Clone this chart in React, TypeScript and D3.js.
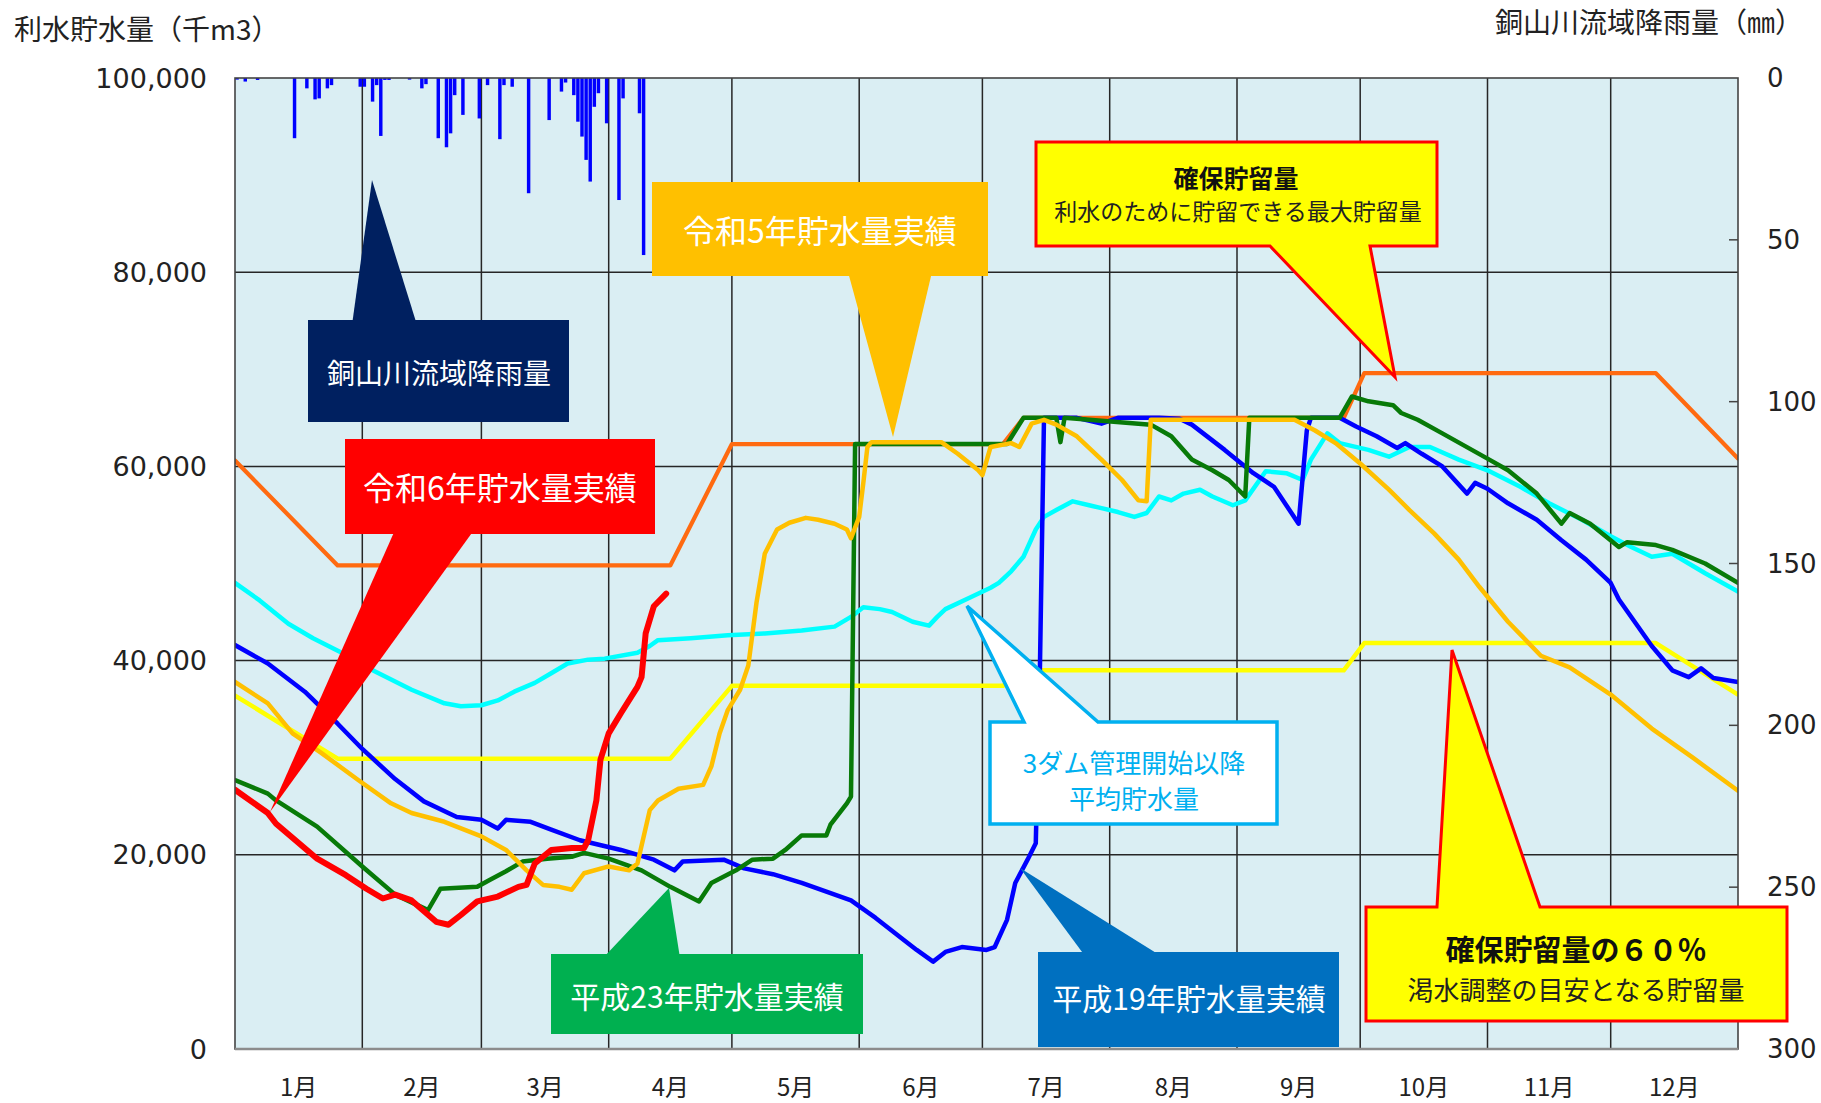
import React, { useEffect } from 'react';
import * as d3 from 'd3';

const W = 1821;
const H = 1103;
const PL = 235, PR = 1738, PT = 78, PB = 1049;
const FONT = "'Noto Sans CJK JP', 'Noto Sans', sans-serif";
const NUMFONT = "'DejaVu Sans', 'Noto Sans', sans-serif";

const monthStarts = [0, 31, 60, 91, 121, 152, 182, 213, 244, 274, 305, 335, 366];
const monthLabels = ['1月', '2月', '3月', '4月', '5月', '6月', '7月', '8月', '9月', '10月', '11月', '12月'];
const storageTicks = [0, 20000, 40000, 60000, 80000, 100000];
const rainTicks = [0, 50, 100, 150, 200, 250, 300];

// 確保貯留量 (day of year, 千m3)
const reserveCapacity: [number, number][] = [
  [0, 60600], [25, 49800], [106, 49800], [121, 62300], [187, 62300], [192, 65000],
  [270, 65000], [275, 69600], [346, 69600], [366, 60800],
];
// 確保貯留量の60%
const reserve60: [number, number][] = [
  [0, 36400], [25, 29900], [106, 29900], [121, 37400], [187, 37400], [192, 39000],
  [270, 39000], [275, 41800], [346, 41800], [366, 36500],
];
// 3ダム管理開始以降 平均貯水量
const averageStorage: [number, number][] = [
  [0, 48000], [6, 46200], [13, 43800], [19, 42300], [26, 40800], [34, 38900], [43, 37000],
  [51, 35600], [55, 35300], [60, 35400], [64, 35900], [68, 36800], [73, 37700], [77, 38700],
  [81, 39700], [86, 40100], [90, 40200], [98, 40800], [101, 41500], [103, 42100], [111, 42300],
  [120, 42600], [129, 42800], [138, 43100], [146, 43500], [150, 44500], [153, 45500], [157, 45300],
  [160, 45000], [165, 44000], [169, 43600], [171, 44500], [173, 45300], [179, 46500], [184, 47500],
  [186, 48000], [189, 49200], [192, 50700], [195, 53500], [197, 54800], [200, 55500], [204, 56400],
  [208, 56000], [211, 55700], [215, 55300], [219, 54800], [222, 55200], [225, 56900], [228, 56500],
  [231, 57200], [235, 57600], [238, 56900], [243, 56000], [246, 56500], [251, 59500], [256, 59300],
  [260, 58600], [262, 60700], [266, 63400], [269, 62400], [276, 61700], [281, 61000], [286, 62000],
  [291, 62000], [298, 60700], [305, 59600], [313, 57900], [320, 56200], [328, 54500], [335, 52800],
  [340, 51700], [345, 50700], [350, 51000], [358, 49000], [366, 47100],
];
// 平成19年
const storageH19: [number, number][] = [
  [0, 41600], [8, 39700], [17, 36800], [25, 33500], [31, 30900], [39, 27800], [46, 25500],
  [54, 23900], [60, 23600], [64, 22700], [66, 23600], [72, 23400], [77, 22600], [84, 21500],
  [94, 20500], [102, 19500], [107, 18400], [109, 19300], [119, 19500], [124, 18600], [131, 18000],
  [138, 17100], [144, 16200], [150, 15300], [156, 13500], [162, 11500], [166, 10200], [170, 9000],
  [173, 10000], [177, 10500], [183, 10200], [185, 10500], [188, 13300], [190, 17100], [193, 19500],
  [195, 21200], [196, 39000], [197, 65000], [205, 65000], [211, 64400], [215, 65000], [225, 65000],
  [230, 64900], [233, 64300], [241, 61700], [248, 59300], [253, 57900], [259, 54100], [261, 63700],
  [262, 65000], [269, 65000], [273, 64100], [278, 63100], [283, 61900], [285, 62400], [289, 61300],
  [294, 60000], [300, 57200], [302, 58300], [305, 57700], [310, 56200], [317, 54500], [323, 52400],
  [329, 50400], [335, 48000], [337, 46300], [345, 41500], [350, 39000], [354, 38300], [357, 39200],
  [360, 38200], [366, 37800],
];
// 平成23年
const storageH23: [number, number][] = [
  [0, 27700], [8, 26300], [10, 25600], [20, 22900], [31, 18800], [39, 15900], [47, 14300],
  [50, 16500], [59, 16700], [62, 17400], [66, 18300], [70, 19300], [76, 19600], [82, 19800],
  [85, 20200], [91, 19600], [99, 18400], [106, 16700], [113, 15200], [116, 17100], [122, 18400],
  [126, 19500], [131, 19600], [134, 20500], [138, 22000], [144, 22000], [145, 23100], [149, 25300],
  [150, 26000], [151, 62300], [188, 62300], [192, 65000], [200, 65000], [201, 62500], [202, 65000],
  [223, 64300], [228, 63100], [233, 60700], [238, 59600], [242, 58600], [246, 56900], [247, 65000],
  [269, 65000], [272, 67200], [276, 66700], [282, 66300], [284, 65500], [288, 64800], [294, 63400],
  [305, 60800], [310, 59600], [317, 57200], [323, 54100], [325, 55200], [330, 54100], [337, 51700],
  [339, 52200], [346, 51900], [350, 51400], [358, 50000], [366, 48000],
];
// 令和5年
const storageR5: [number, number][] = [
  [0, 37800], [8, 35600], [14, 32500], [21, 30500], [30, 27700], [38, 25300], [43, 24300],
  [51, 23400], [60, 21900], [66, 20500], [71, 18400], [75, 16900], [79, 16700], [82, 16400],
  [85, 18100], [91, 18800], [96, 18400], [98, 19100], [101, 24600], [103, 25600], [108, 26800],
  [114, 27200], [116, 29100], [118, 32500], [120, 34900], [123, 37000], [125, 39500], [127, 46000],
  [129, 51000], [132, 53500], [135, 54200], [139, 54700], [142, 54500], [146, 54100], [149, 53500],
  [150, 52600], [152, 54800], [153, 58300], [154, 62000], [155, 62500], [172, 62500], [176, 61300],
  [181, 59600], [182, 59100], [184, 62000], [189, 62400], [191, 62000], [194, 64400], [197, 64800],
  [200, 64300], [205, 63100], [211, 60700], [216, 58600], [220, 56500], [222, 56400], [223, 64800],
  [258, 64800], [263, 63700], [268, 62400], [274, 60300], [281, 57600], [286, 55500], [292, 53100],
  [298, 50400], [303, 47600], [310, 44000], [318, 40500], [325, 39300], [335, 36500], [345, 33000],
  [355, 30000], [366, 26600],
];
// 令和6年
const storageR6: [number, number][] = [
  [0, 26700], [8, 24300], [10, 23200], [20, 19600], [27, 17900], [32, 16500], [36, 15500],
  [39, 15900], [43, 15300], [49, 13100], [52, 12800], [55, 13800], [59, 15200], [64, 15700],
  [69, 16700], [71, 16900], [73, 19100], [77, 20500], [82, 20700], [85, 20700], [86, 21500],
  [88, 25600], [89, 29800], [91, 32500], [94, 34600], [98, 37300], [99, 38300], [100, 42800],
  [102, 45600], [105, 46900],
];
// 銅山川流域降雨量 (day of year, mm)
const rainDay = [0, 2, 5, 14, 17, 19, 20, 22, 23, 30, 31, 33, 34, 35, 36, 37, 42, 45, 46, 49, 51, 52, 53, 55, 59, 61, 64, 65, 67, 71, 76, 79, 80, 82, 83, 84, 85, 86, 87, 88, 90, 93, 94, 98, 99];
const rainMm = [0.5, 1.1, 0.6, 18.6, 3.2, 6.6, 6.3, 3.2, 2.2, 2.7, 2.7, 7.3, 2.2, 17.9, 0.6, 0.6, 0.5, 3.2, 1.9, 18.6, 21.4, 17.1, 5.3, 11.4, 12.5, 2.2, 18.9, 2.2, 2.7, 35.6, 13.0, 4.2, 1.4, 5.3, 13.5, 18.1, 25.3, 32.0, 8.9, 4.7, 14.0, 37.7, 6.3, 10.9, 54.7];

const seriesDefs = [
  { data: reserveCapacity, color: '#FF6A10', width: 4.2 },
  { data: reserve60, color: '#FFFF00', width: 4.5 },
  { data: averageStorage, color: '#00FFFF', width: 4.5 },
  { data: storageH19, color: '#0000FF', width: 4.5 },
  { data: storageH23, color: '#087A08', width: 4.5 },
  { data: storageR5, color: '#FFC000', width: 4.5 },
  { data: storageR6, color: '#FF0000', width: 6 },
];

export default function App() {
  useEffect(() => {
    document.body.style.margin = '0';
  }, []);

  const x = d3.scaleLinear().domain([0, 366]).range([PL, PR]);
  const y = d3.scaleLinear().domain([0, 100000]).range([PB, PT]);
  const yR = d3.scaleLinear().domain([0, 300]).range([PT, PB]);
  const line = d3.line<[number, number]>().x((d) => x(d[0])).y((d) => y(d[1]));
  const fmt = d3.format(',');
  const dayW = x(1) - x(0);

  const poly = (pts: number[][]) => 'M' + pts.map((p) => p.join(',')).join('L') + 'Z';

  return (
    <svg width={W} height={H} style={{ display: 'block', background: '#fff' }} fontFamily={FONT}>
      <defs>
        <clipPath id="plotClip">
          <rect x={PL} y={PT} width={PR - PL} height={PB - PT} />
        </clipPath>
      </defs>
      <rect x={PL} y={PT} width={PR - PL} height={PB - PT} fill="#DAEEF3" />
      {/* grid */}
      {storageTicks.slice(1, -1).map((t) => (
        <line key={'h' + t} x1={PL} x2={PR} y1={y(t)} y2={y(t)} stroke="#262626" strokeWidth={1.5} />
      ))}
      {monthStarts.slice(1, -1).map((d) => (
        <line key={'v' + d} x1={x(d)} x2={x(d)} y1={PT} y2={PB} stroke="#262626" strokeWidth={1.5} />
      ))}
      {/* rainfall bars */}
      <g clipPath="url(#plotClip)">
        {rainDay.map((d, i) => (
          <rect key={'r' + i} x={x(d + 0.5) - dayW * 0.42} y={PT} width={dayW * 0.84} height={yR(rainMm[i]) - PT} fill="#0000FF" />
        ))}
      </g>
      {/* storage lines */}
      <g clipPath="url(#plotClip)">
        {seriesDefs.map((s, i) => (
          <path key={'s' + i} d={line(s.data) || ''} fill="none" stroke={s.color} strokeWidth={s.width} strokeLinejoin="round" strokeLinecap="round" />
        ))}
      </g>
      {/* border */}
      <rect x={PL} y={PT} width={PR - PL} height={PB - PT} fill="none" stroke="#444" strokeWidth={1.6} />
      <line x1={PL} x2={PR} y1={PB} y2={PB} stroke="#8c8c8c" strokeWidth={2.5} />
      {rainTicks.slice(1, -1).map((t) => (
        <line key={'rt' + t} x1={PR - 9} x2={PR} y1={yR(t)} y2={yR(t)} stroke="#444" strokeWidth={1.5} />
      ))}

      {/* callouts */}
      {/* 銅山川流域降雨量 */}
      <path d={poly([[372, 180], [417, 325], [352, 325]])} fill="#002060" />
      <rect x={308} y={320} width={261} height={102} fill="#002060" />
      <text x={439} y={372} fill="#fff" fontSize={28} textAnchor="middle" dominantBaseline="central">銅山川流域降雨量</text>

      {/* 令和6年 */}
      <rect x={345} y={439} width={310} height={95} fill="#FF0000" />
      <path d={poly([[395, 530], [474, 530], [270, 812]])} fill="#FF0000" />
      <text x={500} y={486} fill="#fff" fontSize={32} textAnchor="middle" dominantBaseline="central">令和6年貯水量実績</text>

      {/* 令和5年 */}
      <rect x={652} y={182} width={336} height={94} fill="#FFC000" />
      <path d={poly([[848, 272], [932, 272], [893, 437]])} fill="#FFC000" />
      <text x={820} y={229} fill="#fff" fontSize={32} textAnchor="middle" dominantBaseline="central">令和5年貯水量実績</text>

      {/* 確保貯留量 */}
      <path d={poly([[1036, 142], [1437, 142], [1437, 246], [1370, 246], [1395, 377], [1270, 246], [1036, 246]])} fill="#FFFF00" stroke="#FF0000" strokeWidth={3} strokeLinejoin="miter" />
      <text x={1236} y={177} fill="#111" fontSize={25} fontWeight="bold" textAnchor="middle" dominantBaseline="central">確保貯留量</text>
      <text x={1238} y={210} fill="#222" fontSize={23} textAnchor="middle" dominantBaseline="central">利水のために貯留できる最大貯留量</text>

      {/* 3ダム管理開始以降 */}
      <path d={poly([[990, 722], [1024, 722], [967, 606], [1098, 722], [1277, 722], [1277, 824], [990, 824]])} fill="#fff" stroke="#00B0F0" strokeWidth={3.5} />
      <text x={1134} y={761} fill="#00B0F0" fontSize={26} textAnchor="middle" dominantBaseline="central">3ダム管理開始以降</text>
      <text x={1134} y={797} fill="#00B0F0" fontSize={26} textAnchor="middle" dominantBaseline="central">平均貯水量</text>

      {/* 平成19年 */}
      <rect x={1038} y={952} width={301} height={95} fill="#0070C0" />
      <path d={poly([[1085, 956], [1161, 956], [1020, 868]])} fill="#0070C0" />
      <text x={1189} y={997} fill="#fff" fontSize={30} textAnchor="middle" dominantBaseline="central">平成19年貯水量実績</text>

      {/* 平成23年 */}
      <rect x={551} y={954} width={312} height={80} fill="#00B050" />
      <path d={poly([[603, 958], [680, 958], [669, 888]])} fill="#00B050" />
      <text x={707} y={995} fill="#fff" fontSize={30} textAnchor="middle" dominantBaseline="central">平成23年貯水量実績</text>

      {/* 確保貯留量の60% */}
      <path d={poly([[1366, 907], [1437, 907], [1452, 650], [1540, 907], [1787, 907], [1787, 1021], [1366, 1021]])} fill="#FFFF00" stroke="#FF0000" strokeWidth={3} />
      <text x={1576} y={948} fill="#111" fontSize={29} fontWeight="bold" textAnchor="middle" dominantBaseline="central">確保貯留量の６０％</text>
      <text x={1576} y={988} fill="#222" fontSize={26} textAnchor="middle" dominantBaseline="central">渇水調整の目安となる貯留量</text>

      {/* axis labels */}
      {storageTicks.map((t) => (
        <text key={'yl' + t} x={207} y={y(t)} fontFamily={NUMFONT} fontSize={27} fill="#222" textAnchor="end" dominantBaseline="central">{fmt(t)}</text>
      ))}
      {rainTicks.map((t) => (
        <text key={'yr' + t} x={1767} y={yR(t)} fontFamily={NUMFONT} fontSize={26} fill="#222" textAnchor="start" dominantBaseline="central">{t}</text>
      ))}
      {monthLabels.map((m, i) => (
        <text key={'m' + i} x={x((monthStarts[i] + monthStarts[i + 1]) / 2)} y={1085} fontSize={24} fill="#222" textAnchor="middle" dominantBaseline="central">{m}</text>
      ))}
      <text x={14} y={28} fontSize={28} fill="#222" dominantBaseline="central">利水貯水量（千m3）</text>
      <text x={1803} y={21} fontSize={28} fill="#222" textAnchor="end" dominantBaseline="central">銅山川流域降雨量（㎜）</text>
    </svg>
  );
}
